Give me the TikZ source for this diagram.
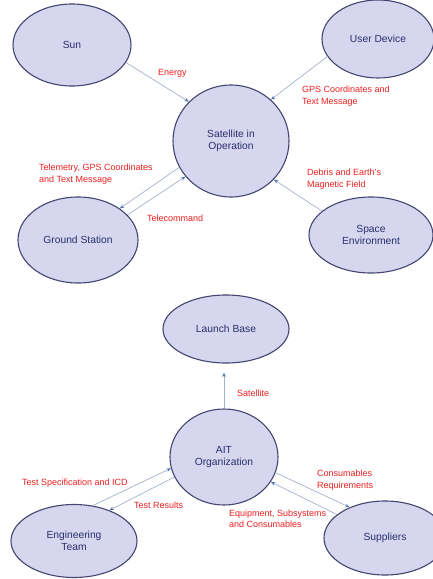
\documentclass[tikz,border=0pt]{standalone}
\usepackage{fontspec}
\setmainfont{Liberation Sans}
\usetikzlibrary{shapes.geometric,arrows.meta}
\definecolor{bubblefill}{RGB}{214,215,238}
\definecolor{bubbleline}{RGB}{68,70,112}
\definecolor{bubbletext}{RGB}{42,46,110}
\definecolor{flowline}{RGB}{165,178,202}
\definecolor{flowtip}{RGB}{85,115,175}
\definecolor{flowtext}{RGB}{238,32,32}
\tikzset{
  bubble/.style={ellipse, draw=bubbleline, fill=bubblefill, line width=1.1pt,
    text=bubbletext, font=\fontsize{10.3}{12.5}\selectfont, align=center, inner sep=0pt},
  flow/.style={draw=flowline, line width=0.7pt,
    -{Stealth[length=4.5pt,width=3.5pt,color=flowtip]}},
  flowlabel/.style={text=flowtext, font=\fontsize{9}{11.5}\selectfont,
    align=left, inner sep=0pt, anchor=west},
}
\begin{document}
\begin{tikzpicture}[x=1pt,y=-1pt]
\useasboundingbox (0,0) rectangle (433,579);
\clip (0,0) rectangle (433,579);
\fill[white] (0,0) rectangle (433,579);

% --- satellite in operation: context ---
\node[bubble, minimum width=118pt, minimum height=82pt] (sun) at (72,45) {Sun};
\node[bubble, minimum width=112pt, minimum height=78pt] (user) at (378,39) {User Device};
\node[bubble, minimum width=116pt, minimum height=112pt] (sat) at (231,141) {Satellite in\\Operation};
\node[bubble, minimum width=120pt, minimum height=86pt] (ground) at (78,240) {Ground Station};
\node[bubble, minimum width=124pt, minimum height=76pt] (space) at (371,235) {Space\\Environment};

\draw[flow] (sun.-18) -- (sat.137);
\draw[flow] (user.199) -- (sat.46);
\draw[flow] (sat.207) -- (ground.37);
\draw[flow] (ground.27) -- (sat.218);
\draw[flow] (space.154) -- (sat.-42);

\node[flowlabel] (lenergy) at (158,73) {Energy};
\node[flowlabel] (lgps) at (302,96) {GPS Coordinates and\\Text Message};
\node[flowlabel] (ltm) at (39,174) {Telemetry, GPS Coordinates\\and Text Message};
\node[flowlabel] (ltc) at (147,218) {Telecommand};
\node[flowlabel] (ldebris) at (307,179) {Debris and Earth's\\Magnetic Field};

% --- AIT organization: context ---
\node[bubble, minimum width=126pt, minimum height=68pt] (launch) at (226,329) {Launch Base};
\node[bubble, minimum width=108pt, minimum height=96pt] (ait) at (224,457) {AIT\\Organization};
\node[bubble, minimum width=126pt, minimum height=73pt] (eng) at (74,541) {Engineering\\Team};
\node[bubble, minimum width=122pt, minimum height=74pt] (sup) at (385,538) {Suppliers};

\draw[flow, shorten >=9pt] (ait.north) -- (ait.north |- launch.south);
\draw[flow] (eng.62) -- (ait.192);
\draw[flow] (ait.202) -- (eng.41);
\draw[flow] (ait.-17) -- (sup.139);
\draw[flow] (sup.154) -- (ait.-28);

\node[flowlabel] (lsat) at (237,393) {Satellite};
\node[flowlabel] (lspec) at (22,483) {Test Specification and ICD};
\node[flowlabel] (lres) at (134,505) {Test Results};
\node[flowlabel] (lcons) at (317,480) {Consumables\\Requirements};
\node[flowlabel] (lequip) at (229,519) {Equipment, Subsystems\\and Consumables};
\end{tikzpicture}
\end{document}
